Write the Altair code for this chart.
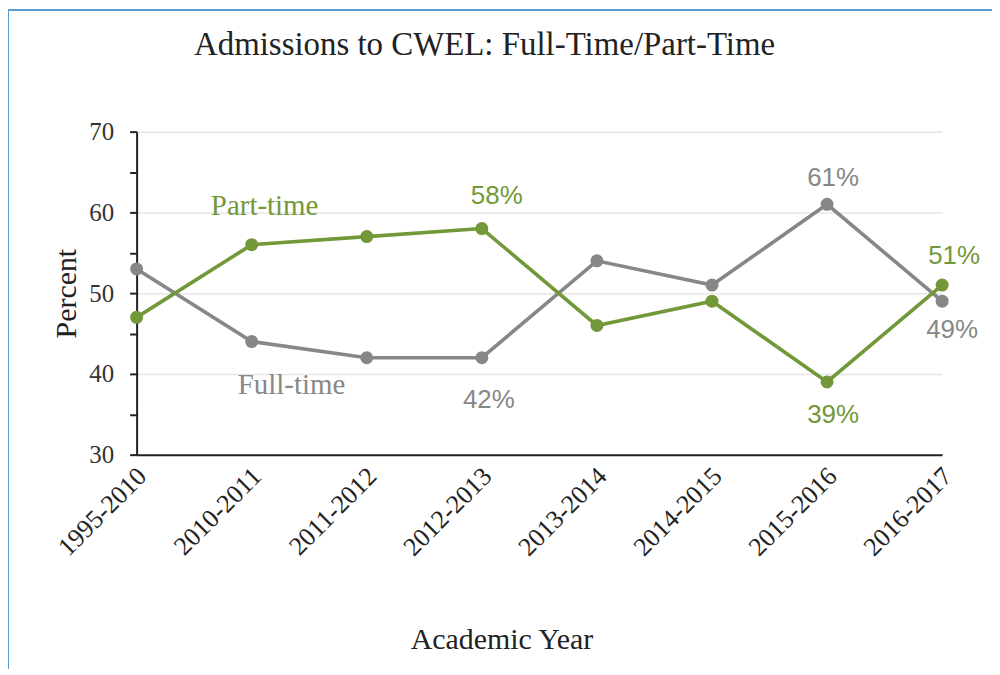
import altair as alt
import pandas as pd

years = ["1995-2010", "2010-2011", "2011-2012", "2012-2013",
         "2013-2014", "2014-2015", "2015-2016", "2016-2017"]
part_time = [47, 56, 57, 58, 46, 49, 39, 51]
full_time = [53, 44, 42, 42, 54, 51, 61, 49]

# annotated values
ann_series = ["Part-time", "Full-time", "Full-time", "Part-time", "Part-time", "Full-time"]
ann_year = ["2012-2013", "2012-2013", "2015-2016", "2015-2016", "2016-2017", "2016-2017"]
ann_value = [58, 42, 61, 39, 51, 49]
ann_text = ["58%", "42%", "61%", "39%", "51%", "49%"]

GREEN = "#73983a"
GRAY = "#878787"
SERIF = "Liberation Serif"
SANS = "Liberation Sans"

W, H = 808, 324
PAD = {"left": 129, "top": 123, "right": 50, "bottom": 214}

df = pd.DataFrame({
    "year": years * 2,
    "series": ["Full-time"] * len(years) + ["Part-time"] * len(years),
    "value": full_time + part_time,
})

x_enc = alt.X(
    "year:N", sort=years,
    scale=alt.Scale(type="point", padding=0, domain=years),
    axis=alt.Axis(
        title="Academic Year", labelAngle=-45, labelFont=SERIF, labelFontSize=26,
        labelColor="#222222", ticks=False, domainColor="#222222", domainWidth=2,
        grid=False, labelPadding=8, labelOffset=-4, titleFont=SERIF, titleFontSize=30,
        titleFontWeight="normal", titleColor="#222222",
        titleX=366, titleY=185, titleBaseline="middle", titleAnchor="start", titleAlign="center",
    ),
)
y_enc = alt.Y(
    "value:Q",
    scale=alt.Scale(domain=[30, 70], nice=False, zero=False),
    axis=alt.Axis(
        title="Percent", values=list(range(30, 71, 5)),
        labelExpr="datum.value % 10 === 0 ? datum.label : ''",
        labelFont=SERIF, labelFontSize=25, labelColor="#333333", labelPadding=16,
        domainColor="#222222", domainWidth=2, tickColor="#222222", tickWidth=2, tickSize=7,
        grid=True,
        gridColor={"condition": {"test": "datum.value % 10 === 0 && datum.value > 30",
                                 "value": "#e6e6e6"}, "value": "transparent"},
        gridWidth=1.5,
        titleFont=SERIF, titleFontSize=30, titleFontWeight="normal", titleColor="#222222",
        titleX=-70, titleY=162, titleAngle=-90, titleBaseline="middle", titleAlign="center",
        titleAnchor="start",
    ),
)

base = alt.Chart(df)
layers = []
for s, c in [("Full-time", GRAY), ("Part-time", GREEN)]:
    sub = base.transform_filter(alt.datum.series == s)
    layers.append(sub.mark_line(color=c, strokeWidth=3.6).encode(x=x_enc, y=y_enc))
    layers.append(sub.mark_circle(color=c, size=170, opacity=1).encode(x=x_enc, y=y_enc))

ann = pd.DataFrame({"series": ann_series, "year": ann_year, "value": ann_value, "text": ann_text})
offsets = [(15, -33), (7, 42), (6, -26), (6, 33), (12, -29), (10, 29)]
for i, (dx, dy) in enumerate(offsets):
    col = GREEN if ann_series[i] == "Part-time" else GRAY
    layers.append(
        alt.Chart(ann.iloc[[i]]).mark_text(
            font=SANS, fontSize=26, color=col, dx=dx, dy=dy, baseline="middle", align="center"
        ).encode(x=x_enc, y=y_enc, text="text:N")
    )

# series name labels anchored to 2010-2011 points
names = pd.DataFrame({"year": ["2010-2011", "2010-2011"], "value": [56, 44],
                      "text": ["Part-time", "Full-time"]})
layers.append(alt.Chart(names.iloc[[0]]).mark_text(
    font=SERIF, fontSize=29, color=GREEN, dx=13, dy=-39, baseline="middle"
).encode(x=x_enc, y=y_enc, text="text:N"))
layers.append(alt.Chart(names.iloc[[1]]).mark_text(
    font=SERIF, fontSize=29, color=GRAY, dx=40, dy=44, baseline="middle"
).encode(x=x_enc, y=y_enc, text="text:N"))

# decorative frame around the picture
frame = alt.Chart(pd.DataFrame({"k": [0]})).mark_rect(
    fill="transparent", stroke="#5b9bd5", strokeWidth=2
).encode(x=alt.value(-129), x2=alt.value(W + 200), y=alt.value(-122), y2=alt.value(H + 400))

chart = alt.layer(frame, *layers).properties(
    width=W, height=H,
    title=alt.TitleParams(
        "Admissions to CWEL: Full-Time/Part-Time", font=SERIF, fontSize=33,
        fontWeight="normal", color="#222222", anchor="middle", dx=-55, offset=-79,
        baseline="alphabetic",
    ),
    autosize=alt.AutoSizeParams(type="none"),
    padding=PAD,
    background="white",
).configure_view(strokeWidth=0)

chart.save("out.html", embed_options={"renderer": "svg", "actions": False})
